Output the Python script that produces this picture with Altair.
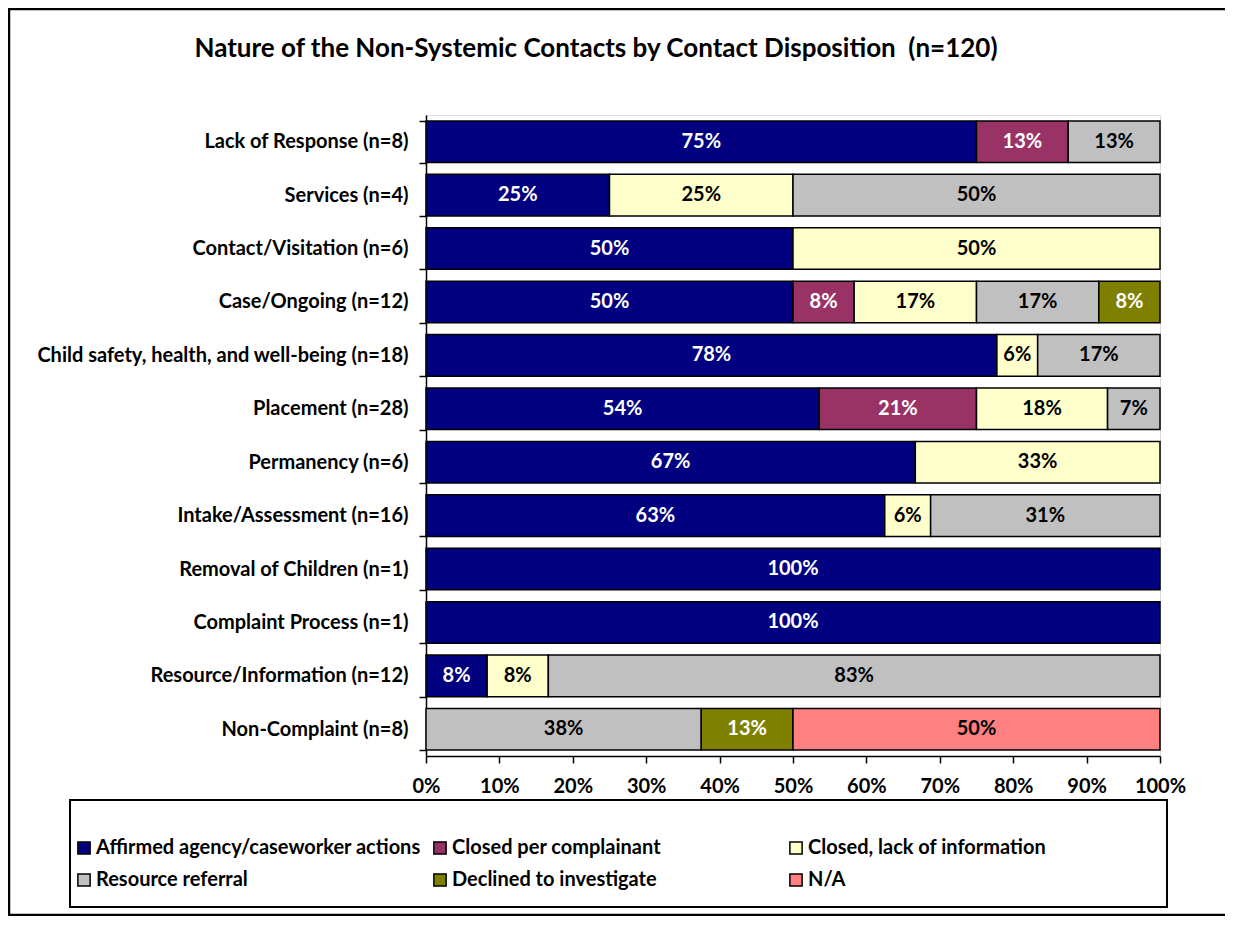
import altair as alt
import pandas as pd

TITLE = "Nature of the Non-Systemic Contacts by Contact Disposition \u00a0(n=120)"

categories = [
    "Lack of Response (n=8)",
    "Services (n=4)",
    "Contact/Visitation (n=6)",
    "Case/Ongoing (n=12)",
    "Child safety, health, and well-being (n=18)",
    "Placement (n=28)",
    "Permanency (n=6)",
    "Intake/Assessment (n=16)",
    "Removal of Children (n=1)",
    "Complaint Process (n=1)",
    "Resource/Information (n=12)",
    "Non-Complaint (n=8)",
]

dispositions = [
    "Affirmed agency/caseworker actions",
    "Closed per complainant",
    "Closed, lack of information",
    "Resource referral",
    "Declined to investigate",
    "N/A",
]
colors = ["#000080", "#993366", "#FFFFCC", "#C0C0C0", "#808000", "#FF8080"]

# counts per category (derived from n and the labelled percentages)
affirmed = [6, 1, 3, 6, 14, 15, 4, 10, 1, 1, 1, 0]
closed_per = [1, 0, 0, 1, 0, 6, 0, 0, 0, 0, 0, 0]
closed_lack = [0, 1, 3, 2, 1, 5, 2, 1, 0, 0, 1, 0]
referral = [1, 2, 0, 2, 3, 2, 0, 5, 0, 0, 10, 3]
declined = [0, 0, 0, 1, 0, 0, 0, 0, 0, 0, 0, 1]
na = [0, 0, 0, 0, 0, 0, 0, 0, 0, 0, 0, 4]

series = [affirmed, closed_per, closed_lack, referral, declined, na]

rows = []
for i, cat in enumerate(categories):
    for j, name in enumerate(dispositions):
        rows.append({"category": cat, "disposition": name, "order": j, "count": series[j][i]})
df = pd.DataFrame(rows)

FONT = "Lato"
FS = 20

base = (
    alt.Chart(df)
    .transform_filter("datum.count > 0")
    .transform_joinaggregate(total="sum(count)", groupby=["category"])
    .transform_calculate(pct="datum.count / datum.total")
    .transform_stack(stack="pct", as_=["x0", "x1"], groupby=["category"],
                     sort=[alt.SortField("order", order="ascending")])
    .transform_calculate(mid="(datum.x0 + datum.x1) / 2")
)

y_enc = alt.Y(
    "category:N",
    sort=categories,
    scale=alt.Scale(paddingInner=0.22, paddingOuter=0.11),
    axis=alt.Axis(
        title=None, tickBand="extent", tickSize=7, tickWidth=1.5, tickColor="black",
        domainColor="black", domainWidth=1.5, labelPadding=11, labelLimit=500,
        labelFont=FONT, labelFontSize=FS, labelFontWeight="bold", labelColor="black",
    ),
)

bars = base.mark_bar(stroke="black", strokeWidth=1.5).encode(
    x=alt.X(
        "x0:Q",
        scale=alt.Scale(domain=[0, 1], nice=False),
        axis=alt.Axis(
            title=None, format=".0%", values=[i / 10 for i in range(11)], grid=False,
            tickSize=7, tickWidth=1.5, tickColor="black", domainColor="black",
            domainWidth=1.5, labelPadding=13, labelFlush=False,
            labelFont=FONT, labelFontSize=FS, labelFontWeight="bold", labelColor="black",
        ),
    ),
    x2="x1:Q",
    y=y_enc,
    color=alt.Color(
        "disposition:N",
        scale=alt.Scale(domain=dispositions, range=colors),
        sort=dispositions,
        legend=alt.Legend(
            title=None, orient="none", legendX=-352, legendY=723, columns=3,
            direction="horizontal", gridAlign="all", symbolType="square", symbolSize=150,
            symbolStrokeColor="black", symbolStrokeWidth=1.5, symbolOpacity=1,
            labelFont=FONT, labelFontSize=FS, labelFontWeight="bold", labelColor="black",
            labelOffset=2, rowPadding=12, columnPadding=9, padding=0, labelLimit=500,
        ),
    ),
)

labels = base.mark_text(font=FONT, fontSize=FS, fontWeight="bold").encode(
    x="mid:Q",
    y=alt.Y("category:N", sort=categories),
    text=alt.Text("pct:Q", format=".0%"),
    color=alt.condition(
        alt.FieldOneOfPredicate(field="disposition",
                                oneOf=["Affirmed agency/caseworker actions",
                                       "Closed per complainant",
                                       "Declined to investigate"]),
        alt.value("white"),
        alt.value("black"),
    ),
)

title = alt.Chart(alt.Data(values=[{"t": TITLE}])).mark_text(
    font=FONT, fontSize=26, fontWeight="bold", color="black", baseline="alphabetic", align="center"
).encode(text="t:N", x=alt.value(170), y=alt.value(-58))

border = alt.Chart(alt.Data(values=[{"a": 1}])).mark_rect(
    fill="transparent", stroke="black", strokeWidth=2.5
).encode(x=alt.value(-417), x2=alt.value(820), y=alt.value(-106), y2=alt.value(800))

legend_box = alt.Chart(alt.Data(values=[{"a": 1}])).mark_rect(
    fill="transparent", stroke="black", strokeWidth=2
).encode(x=alt.value(-356), x2=alt.value(741), y=alt.value(685), y2=alt.value(792))

chart = (
    alt.layer(border, legend_box, bars, labels, title)
    .properties(
        width=734, height=641,
        autosize=alt.AutoSizeParams(type="none"),
        padding={"left": 418, "top": 107, "right": 65, "bottom": 160},
    )
    .configure_view(stroke=None)
    .configure(background="white")
)

chart.save("out.html", embed_options={"renderer": "svg", "actions": False})
